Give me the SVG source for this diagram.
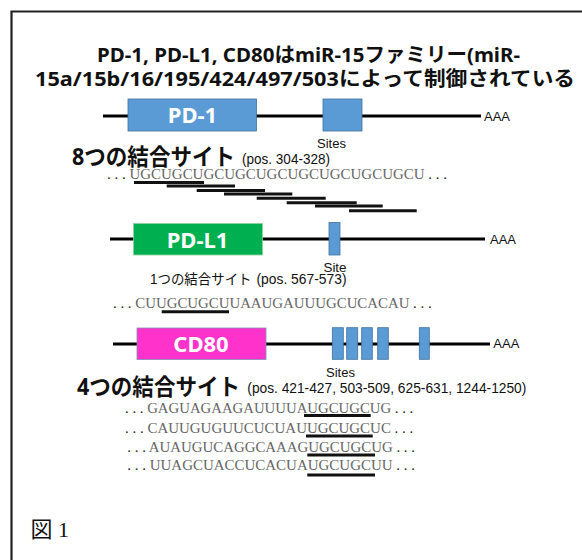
<svg xmlns="http://www.w3.org/2000/svg" width="582" height="560" viewBox="0 0 582 560">
<style>
.title{font-family:"Noto Sans","Noto Sans CJK JP",sans-serif;font-weight:bold;font-size:20px;fill:#111}
.box{font-family:"Noto Sans",sans-serif;font-weight:bold;font-size:22px;fill:#fff;text-anchor:middle}
.small{font-family:"Liberation Sans",sans-serif;font-size:12.5px;fill:#111}
.big{font-family:"Noto Sans","Noto Sans CJK JP",sans-serif;font-weight:bold;font-size:23px;fill:#111}
.mid{font-family:"Liberation Sans","Noto Sans CJK JP",sans-serif;font-size:14px;fill:#111}
.seq{font-family:"Liberation Serif",serif;font-size:15px;fill:#666}
.d{fill:#222}
.bar{stroke:#111;stroke-width:3}
.rna{stroke:#000;stroke-width:3}
.site{fill:#5B9BD5;stroke:#41719C;stroke-width:0.8}
</style>
<rect width="582" height="560" fill="#fff"/>
<path d="M11.5 560 V11.5 H582" fill="none" stroke="#222" stroke-width="2.2"/>
<g id="title">
<text class="title" x="97" y="62" textLength="423" lengthAdjust="spacingAndGlyphs">PD-1, PD-L1, CD80はmiR-15ファミリー(miR-</text>
<text class="title" x="35" y="86" textLength="540" lengthAdjust="spacingAndGlyphs">15a/15b/16/195/424/497/503によって制御されている</text>
</g>
<g id="connectors">
<line class="rna" x1="103" y1="116" x2="481" y2="116"/>
<line class="rna" x1="110" y1="239" x2="485" y2="239"/>
<line class="rna" x1="113" y1="344" x2="490" y2="344"/>
</g>
<g id="pd1">
<rect x="128" y="99" width="128.5" height="32" fill="#5B9BD5" stroke="#41719C" stroke-width="0.8"/>
<text class="box" x="192.5" y="123">PD-1</text>
<rect class="site" x="323" y="99" width="39" height="32"/>
<text class="small" x="484" y="121" textLength="26" lengthAdjust="spacingAndGlyphs">AAA</text>
<text class="small" x="317" y="148" textLength="29" lengthAdjust="spacingAndGlyphs">Sites</text>
<text class="big" x="72" y="165" textLength="163" lengthAdjust="spacingAndGlyphs">8つの結合サイト</text>
<text class="mid" x="242" y="164" textLength="88" lengthAdjust="spacingAndGlyphs">(pos. 304-328)</text>
<text class="seq" x="107" y="179" textLength="340" lengthAdjust="spacingAndGlyphs"><tspan class="d">. . . </tspan>UGCUGCUGCUGCUGCUGCUGCUGCUGCU<tspan class="d"> . . .</tspan></text>
<line class="bar" x1="134" y1="182.5" x2="204" y2="182.5"/>
<line class="bar" x1="166.7" y1="186" x2="235" y2="186"/>
<line class="bar" x1="196.7" y1="190.5" x2="265" y2="190.5"/>
<line class="bar" x1="224" y1="194" x2="292.3" y2="194"/>
<line class="bar" x1="256.7" y1="198.3" x2="325.7" y2="198.3"/>
<line class="bar" x1="286.7" y1="202.7" x2="356.7" y2="202.7"/>
<line class="bar" x1="315" y1="206" x2="382.7" y2="206"/>
<line class="bar" x1="349" y1="210.7" x2="416.7" y2="210.7"/>
</g>
<g id="pdl1">
<rect x="133.5" y="223.5" width="129" height="31.5" fill="#00B050" stroke="#8FD19E" stroke-width="0.8"/>
<text class="box" x="197.5" y="247.5">PD-L1</text>
<rect class="site" x="329" y="222.5" width="11" height="32.5"/>
<text class="small" x="490" y="243.5" textLength="26" lengthAdjust="spacingAndGlyphs">AAA</text>
<text class="small" x="323.5" y="272" textLength="23" lengthAdjust="spacingAndGlyphs">Site</text>
<text class="mid" x="150" y="284" font-size="15" textLength="101.5" lengthAdjust="spacingAndGlyphs">1つの結合サイト</text>
<text class="mid" x="256.5" y="284" textLength="90" lengthAdjust="spacingAndGlyphs">(pos. 567-573)</text>
<text class="seq" x="113" y="308" textLength="318.7" lengthAdjust="spacingAndGlyphs"><tspan class="d">. . . </tspan>CUUGCUGCUUAAUGAUUUGCUCACAU<tspan class="d"> . . .</tspan></text>
<line class="bar" x1="161.7" y1="311.7" x2="229" y2="311.7"/>
</g>
<g id="cd80">
<rect x="137" y="328" width="129" height="31.5" fill="#FF33CC" stroke="#7A8FB0" stroke-width="0.8"/>
<text class="box" x="201" y="352">CD80</text>
<rect class="site" x="332.3" y="327.7" width="11" height="31.6"/>
<rect class="site" x="346.7" y="327.7" width="11" height="31.6"/>
<rect class="site" x="361.7" y="327.7" width="10.6" height="31.6"/>
<rect class="site" x="377.7" y="327.7" width="10.6" height="31.6"/>
<rect class="site" x="419.3" y="327.7" width="10" height="31.6"/>
<text class="small" x="493.3" y="348.3" textLength="26" lengthAdjust="spacingAndGlyphs">AAA</text>
<text class="small" x="326" y="377.3" textLength="29" lengthAdjust="spacingAndGlyphs">Sites</text>
<text class="big" x="77" y="394.5" textLength="163" lengthAdjust="spacingAndGlyphs">4つの結合サイト</text>
<text class="mid" x="247.3" y="393" textLength="279" lengthAdjust="spacingAndGlyphs">(pos. 421-427, 503-509, 625-631, 1244-1250)</text>
<text class="seq" x="125" y="413.3" textLength="288.3" lengthAdjust="spacingAndGlyphs"><tspan class="d">. . . </tspan>GAGUAGAAGAUUUUAUGCUGCUG<tspan class="d"> . . .</tspan></text>
<line class="bar" x1="304" y1="415.5" x2="370.7" y2="415.5"/>
<text class="seq" x="125" y="433.3" textLength="288.3" lengthAdjust="spacingAndGlyphs"><tspan class="d">. . . </tspan>CAUUGUGUUCUCUAUUGCUGCUC<tspan class="d"> . . .</tspan></text>
<line class="bar" x1="306" y1="436" x2="372.7" y2="436"/>
<text class="seq" x="127.3" y="451.7" textLength="287.7" lengthAdjust="spacingAndGlyphs"><tspan class="d">. . . </tspan>AUAUGUCAGGCAAAGUGCUGCUG<tspan class="d"> . . .</tspan></text>
<line class="bar" x1="307.3" y1="455" x2="375" y2="455"/>
<text class="seq" x="127.3" y="470" textLength="287.7" lengthAdjust="spacingAndGlyphs"><tspan class="d">. . . </tspan>UUAGCUACCUCACUAUGCUGCUU<tspan class="d"> . . .</tspan></text>
<line class="bar" x1="307.3" y1="475" x2="375" y2="475"/>
</g>
<g id="figlabel">
<text x="30.5" y="537" font-family="'Liberation Serif','Noto Sans CJK JP',serif" font-size="22" fill="#111">図 1</text>
</g>
</svg>
